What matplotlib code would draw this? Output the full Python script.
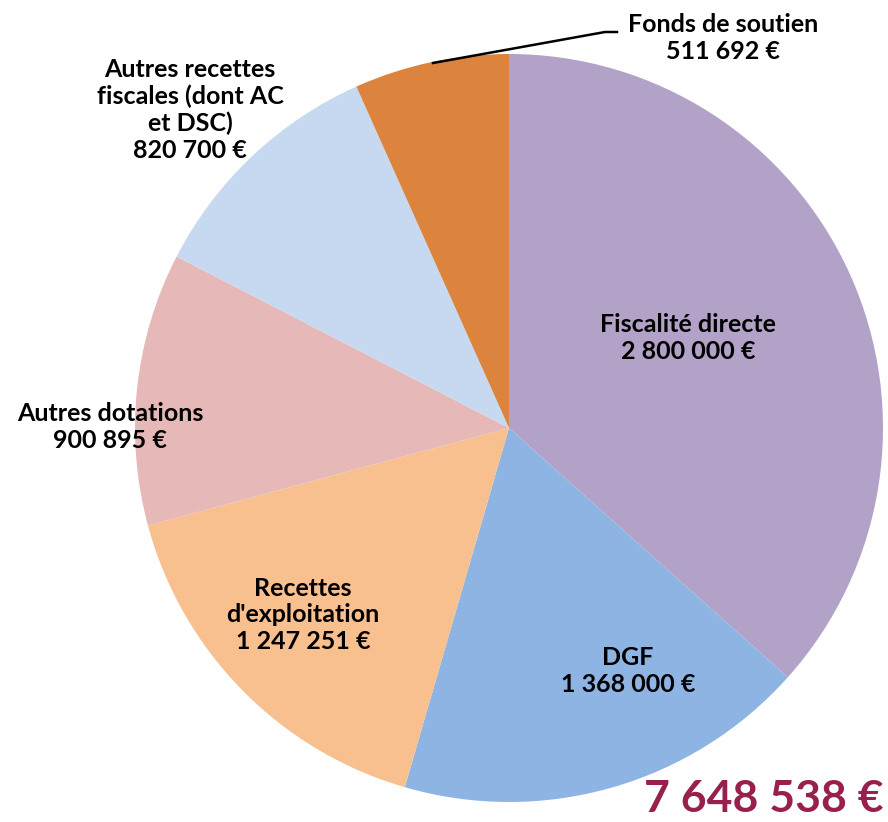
import numpy as np
import matplotlib.pyplot as plt

categories = ["Fiscalité directe", "DGF", "Recettes\nd'exploitation", "Autres dotations",
              "Autres recettes\nfiscales (dont AC\net DSC)", "Fonds de soutien"]
values = [2800000, 1368000, 1247251, 900895, 820700, 511692]
colors = ["#B3A2C7", "#8EB4E3", "#F9C08F", "#E6B9B8", "#C6D9F1", "#DC843E"]

# label centres in pixel coords (x from left, y from top)
label_pos = [(688, 338), (628, 671), (303, 615), (110, 427), (190, 110), (723, 38)]

def fmt(v):
    return "{:,}".format(v).replace(",", " ") + " €"

W, H = 888, 822
fig = plt.figure(figsize=(W / 100, H / 100), dpi=100)
ax = fig.add_axes([0, 0, 1, 1])

ax.pie(values, colors=colors, startangle=90, counterclock=False,
       center=(509, H - 428), radius=374, frame=True)
ax.set_xlim(0, W)
ax.set_ylim(0, H)
ax.axis("off")

font = dict(family=["Lato", "DejaVu Sans"], fontweight="bold", fontsize=18,
            color="black", ha="center", va="center", linespacing=1.2)
for cat, v, (x, y) in zip(categories, values, label_pos):
    ax.text(x, H - y, cat + "\n" + fmt(v), **font)

# leader line for the small slice
ax.plot([433, 605, 617], [H - 63, H - 32, H - 32], color="black", lw=1.8)

ax.text(883, H - 812, fmt(sum(values)), family=["Lato", "DejaVu Sans"],
        fontweight="bold", fontsize=32, color="#991F4E", ha="right", va="baseline")

fig.savefig("out.png", dpi=100)
